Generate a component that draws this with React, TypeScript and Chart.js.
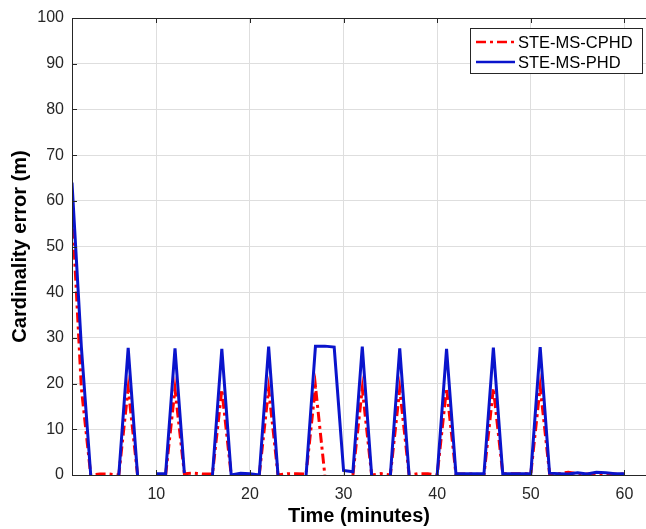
import React, { useEffect, useRef } from "react";
import { Chart, registerables } from "chart.js";

Chart.register(...registerables);

const minutes = [
  1, 2, 3, 4, 5, 6, 7, 8, 9, 10, 11, 12, 13, 14, 15, 16, 17, 18, 19, 20,
  21, 22, 23, 24, 25, 26, 27, 28, 29, 30, 31, 32, 33, 34, 35, 36, 37, 38, 39, 40,
  41, 42, 43, 44, 45, 46, 47, 48, 49, 50, 51, 52, 53, 54, 55, 56, 57, 58, 59, 60,
];

// STE-MS-CPHD (red, dash-dot)
const cphd: (number | null)[] = [
  58.5, 19, 0, 0.2, 0.2, 0, 19, 0, null, null, 0, 18.8, 0.3, 0.4, 0.2, 0.2, 18.7, 0, null, null,
  0, 18.8, 0, 0.3, 0.3, 0.2, 19.4, 0, null, null, 0, 18.9, 0, 0.3, 0, 18.8, 0, 0.3, 0.3, 0,
  19, 0.2, 0.2, 0.2, 0, 19, 0.3, 0.3, 0.3, 0.3, 19.3, 0.3, 0.3, 0.6, 0.3, 0.2, 0.3, 0.3, 0.2, 0.2,
];

// STE-MS-PHD (blue, solid)
const phd: (number | null)[] = [
  64, 28, 0, null, null, 0, 27.8, 0, null, 0.3, 0.3, 27.7, 0.4, null, null, 0, 27.6, 0, 0.4, 0.3,
  0, 28.1, 0, null, null, 0, 28.2, 28.2, 28.0, 1.0, 0.7, 28.1, 0, null, 0, 27.7, 0, null, null, 0,
  27.6, 0.3, 0.3, 0.3, 0.3, 27.9, 0.3, 0.3, 0.3, 0.3, 28.0, 0.4, 0.3, 0.2, 0.5, 0.2, 0.6, 0.5, 0.3, 0.3,
];

const xTicks = [10, 20, 30, 40, 50, 60];
const yTicks = [0, 10, 20, 30, 40, 50, 60, 70, 80, 90, 100];
const legendLabels = ["STE-MS-CPHD", "STE-MS-PHD"];

const RED = "#ff0000";
const BLUE = "#0a14cc";
const AXIS = "#262626";
const FONT = "'Liberation Sans', Arial, Helvetica, sans-serif";
const RED_DASH = [10, 4, 3, 4];

const framePlugin = {
  id: "frame",
  afterDatasetsDraw(chart: any) {
    const { ctx, chartArea, scales } = chart;
    const { left, right, top, bottom } = chartArea;
    ctx.save();
    ctx.strokeStyle = AXIS;
    ctx.lineWidth = 1;
    ctx.beginPath();
    ctx.moveTo(left, top + 0.5);
    ctx.lineTo(right, top + 0.5);
    ctx.moveTo(left + 0.5, top);
    ctx.lineTo(left + 0.5, bottom);
    ctx.moveTo(left, bottom + 0.5);
    ctx.lineTo(right, bottom + 0.5);
    for (const t of xTicks) {
      const x = Math.round(scales.x.getPixelForValue(t)) + 0.5;
      ctx.moveTo(x, bottom);
      ctx.lineTo(x, bottom - 5);
      ctx.moveTo(x, top);
      ctx.lineTo(x, top + 5);
    }
    for (const t of yTicks) {
      const y = Math.round(scales.y.getPixelForValue(t)) + 0.5;
      ctx.moveTo(left, y);
      ctx.lineTo(left + 5, y);
    }
    ctx.stroke();

    // legend
    const bx = 470.5, by = 28.5, bw = 172, bh = 45;
    ctx.fillStyle = "#ffffff";
    ctx.fillRect(bx, by, bw, bh);
    ctx.strokeStyle = AXIS;
    ctx.lineWidth = 1;
    ctx.strokeRect(bx, by, bw, bh);
    const rows = [
      { y: 42, color: RED, dash: RED_DASH },
      { y: 62, color: BLUE, dash: [] as number[] },
    ];
    rows.forEach((r, i) => {
      ctx.beginPath();
      ctx.setLineDash(r.dash);
      ctx.strokeStyle = r.color;
      ctx.lineWidth = 2.5;
      ctx.moveTo(476, r.y);
      ctx.lineTo(515, r.y);
      ctx.stroke();
      ctx.setLineDash([]);
      ctx.fillStyle = "#000";
      ctx.font = `16.5px ${FONT}`;
      ctx.textBaseline = "middle";
      ctx.textAlign = "left";
      ctx.fillText(legendLabels[i], 518, r.y + 1);
    });
    ctx.restore();
  },
};

export default function App() {
  const ref = useRef<HTMLCanvasElement | null>(null);

  useEffect(() => {
    if (!ref.current) return;
    const chart = new Chart(ref.current, {
      type: "line",
      data: {
        labels: minutes,
        datasets: [
          {
            label: legendLabels[0],
            data: minutes.map((m, i) => ({ x: m, y: cphd[i] })) as any,
            borderColor: RED,
            borderWidth: 3,
            borderDash: RED_DASH,
            pointRadius: 0,
            tension: 0,
            spanGaps: false,
            order: 2,
          },
          {
            label: legendLabels[1],
            data: minutes.map((m, i) => ({ x: m, y: phd[i] })) as any,
            borderColor: BLUE,
            borderWidth: 3,
            pointRadius: 0,
            tension: 0,
            spanGaps: false,
            order: 1,
          },
        ],
      },
      options: {
        responsive: false,
        animation: false,
        layout: { padding: { top: 18, right: 0, left: 0, bottom: 0 } },
        plugins: {
          legend: { display: false },
          tooltip: { enabled: false },
        },
        scales: {
          x: {
            type: "linear",
            min: 1,
            max: 62.3,
            afterBuildTicks: (scale: any) => {
              scale.ticks = xTicks.map((v) => ({ value: v }));
            },
            afterFit: (scale: any) => {
              scale.height = 54;
            },
            ticks: {
              color: AXIS,
              font: { size: 16, family: FONT },
              padding: 10,
              maxRotation: 0,
              autoSkip: false,
            },
            grid: { color: "#dedede", drawTicks: false },
            border: { display: false },
            title: {
              display: true,
              text: "Time (minutes)",
              color: "#000",
              font: { size: 20, weight: "bold", family: FONT },
              padding: { top: 0, bottom: 1 },
            },
          },
          y: {
            min: 0,
            max: 100,
            afterBuildTicks: (scale: any) => {
              scale.ticks = yTicks.map((v) => ({ value: v }));
            },
            afterFit: (scale: any) => {
              scale.width = 72;
            },
            ticks: {
              color: AXIS,
              font: { size: 16, family: FONT },
              padding: 8,
            },
            grid: { color: "#dedede", drawTicks: false },
            border: { display: false },
            title: {
              display: true,
              text: "Cardinality error (m)",
              color: "#000",
              font: { size: 20, weight: "bold", family: FONT },
              padding: { top: 8, bottom: 0 },
            },
          },
        },
      },
      plugins: [framePlugin],
    });
    return () => chart.destroy();
  }, []);

  return (
    <div style={{ position: "absolute", left: 0, top: 0, width: 646, height: 529, background: "#fff" }}>
      <canvas ref={ref} width={646} height={529} style={{ width: 646, height: 529 }} />
    </div>
  );
}
